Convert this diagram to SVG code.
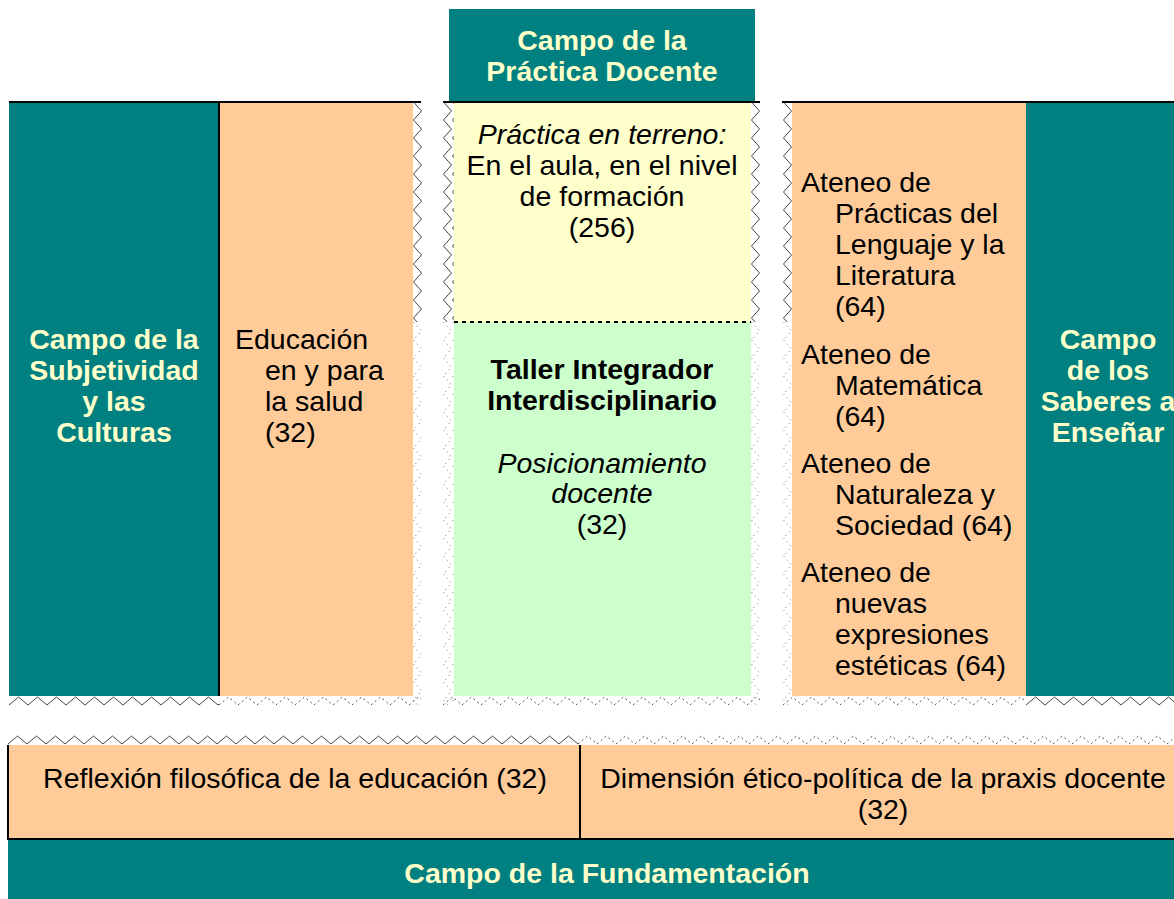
<svg xmlns="http://www.w3.org/2000/svg" width="1174" height="899" viewBox="0 0 1174 899">
<style>
.t{font-family:"Liberation Sans",Arial,sans-serif;font-size:28.5px;fill:#000}
.c{text-anchor:middle}
.h{font-weight:bold;fill:#FFFFCC}
.b{font-weight:bold}
.i{font-style:italic}
.teal{fill:#008080}
.peach{fill:#FFCC99}
.ln{stroke:#000;stroke-width:2;fill:none}
</style>
<defs>
<pattern id="zv" width="9" height="18" patternUnits="userSpaceOnUse"><path d="M0.5,0 L8.5,9 L0.5,18" fill="none" stroke="#444" stroke-width="1"/></pattern>
<pattern id="zvd" width="9" height="18" patternUnits="userSpaceOnUse"><path d="M0.5,0 L8.5,9 L0.5,18" fill="none" stroke="#666" stroke-width="1" stroke-dasharray="1 4"/></pattern>
<pattern id="zh" width="19" height="10" patternUnits="userSpaceOnUse"><path d="M0,9 L9.5,1 L19,9" fill="none" stroke="#444" stroke-width="1"/></pattern>
<pattern id="zhd" width="19" height="10" patternUnits="userSpaceOnUse"><path d="M0,9 L9.5,1 L19,9" fill="none" stroke="#555" stroke-width="1" stroke-dasharray="2 3"/></pattern>
</defs>
<rect width="1174" height="899" fill="#fff"/>

<g id="practica-header">
<rect class="teal" x="449" y="9" width="306" height="93"/>
<text class="t c h" x="602" y="50">Campo de la</text>
<text class="t c h" x="602" y="81">Práctica Docente</text>
</g>

<g id="subjetividad">
<rect class="teal" x="9" y="102" width="210" height="594"/>
<text class="t c h" x="114" y="349">Campo de la</text>
<text class="t c h" x="114" y="380">Subjetividad</text>
<text class="t c h" x="114" y="411">y las</text>
<text class="t c h" x="114" y="442">Culturas</text>
</g>

<g id="educacion-salud">
<rect class="peach" x="219" y="102" width="194" height="594"/>
<text class="t" x="235" y="349">Educación</text>
<text class="t" x="265" y="380">en y para</text>
<text class="t" x="265" y="411">la salud</text>
<text class="t" x="265" y="442">(32)</text>
</g>

<g id="practica-terreno">
<rect x="454" y="102" width="297" height="220" fill="#FFFFCC"/>
<text class="t c i" x="602" y="144">Práctica en terreno:</text>
<text class="t c" x="602" y="175">En el aula, en el nivel</text>
<text class="t c" x="602" y="206">de formación</text>
<text class="t c" x="602" y="237">(256)</text>
</g>

<g id="taller-integrador">
<rect x="454" y="322" width="297" height="374" fill="#CCFFCC"/>
<text class="t c b" x="602" y="379">Taller Integrador</text>
<text class="t c b" x="602" y="410">Interdisciplinario</text>
<text class="t c i" x="602" y="473">Posicionamiento</text>
<text class="t c i" x="602" y="503">docente</text>
<text class="t c" x="602" y="534">(32)</text>
</g>

<g id="ateneos">
<rect class="peach" x="792" y="102" width="234" height="594"/>
<text class="t" x="801" y="192">Ateneo de</text>
<text class="t" x="835" y="223">Prácticas del</text>
<text class="t" x="835" y="254">Lenguaje y la</text>
<text class="t" x="835" y="285">Literatura</text>
<text class="t" x="835" y="316">(64)</text>
<text class="t" x="801" y="364">Ateneo de</text>
<text class="t" x="835" y="395">Matemática</text>
<text class="t" x="835" y="426">(64)</text>
<text class="t" x="801" y="473">Ateneo de</text>
<text class="t" x="835" y="504">Naturaleza y</text>
<text class="t" x="835" y="535">Sociedad (64)</text>
<text class="t" x="801" y="582">Ateneo de</text>
<text class="t" x="835" y="613">nuevas</text>
<text class="t" x="835" y="644">expresiones</text>
<text class="t" x="835" y="675">estéticas (64)</text>
</g>

<g id="saberes">
<rect class="teal" x="1026" y="102" width="148" height="594"/>
<text class="t c h" x="1108" y="349">Campo</text>
<text class="t c h" x="1108" y="380">de los</text>
<text class="t c h" x="1108" y="411">Saberes a</text>
<text class="t c h" x="1108" y="442">Enseñar</text>
</g>

<g id="reflexion">
<rect class="peach" x="8" y="745" width="572" height="94"/>
<text class="t c" x="295" y="788">Reflexión filosófica de la educación (32)</text>
</g>

<g id="dimension">
<rect class="peach" x="580" y="745" width="594" height="94"/>
<text class="t c" x="883" y="788">Dimensión ético-política de la praxis docente</text>
<text class="t c" x="883" y="819">(32)</text>
</g>

<g id="fundamentacion">
<rect class="teal" x="8" y="840" width="1166" height="59"/>
<text class="t c h" x="607" y="883">Campo de la Fundamentación</text>
</g>

<g id="connectors">
<path class="ln" d="M9,102 H421 M443,102 H760 M782,102 H1174"/>
<path class="ln" d="M219,102 V696"/>
<path class="ln" d="M8,745 V840 M8,839 H1174 M580,745 V839"/>
<path d="M454,322 H751" stroke="#000" stroke-width="2" stroke-dasharray="4 4" fill="none"/>
<g transform="translate(413,102)"><rect width="9" height="220" fill="url(#zv)"/></g>
<g transform="translate(413,322)"><rect width="9" height="384" fill="url(#zvd)"/></g>
<g transform="translate(443,102)"><rect width="11" height="220" fill="url(#zv)"/></g>
<g transform="translate(443,322)"><rect width="11" height="384" fill="url(#zvd)"/></g>
<g transform="translate(751,102)"><rect width="9" height="220" fill="url(#zv)"/></g>
<g transform="translate(751,322)"><rect width="9" height="384" fill="url(#zvd)"/></g>
<g transform="translate(783,102)"><rect width="9" height="220" fill="url(#zv)"/></g>
<g transform="translate(783,322)"><rect width="9" height="384" fill="url(#zvd)"/></g>
<g transform="translate(9,696)"><rect width="210" height="10" fill="url(#zh)"/></g>
<g transform="translate(219,696)"><rect width="202" height="10" fill="url(#zhd)"/></g>
<g transform="translate(443,696)"><rect width="317" height="10" fill="url(#zhd)"/></g>
<g transform="translate(783,696)"><rect width="243" height="10" fill="url(#zhd)"/></g>
<g transform="translate(1026,696)"><rect width="148" height="10" fill="url(#zh)"/></g>
<g transform="translate(8,735)"><rect width="570" height="10" fill="url(#zh)"/></g>
<g transform="translate(578,735)"><rect width="596" height="10" fill="url(#zhd)"/></g>
</g>
</svg>
